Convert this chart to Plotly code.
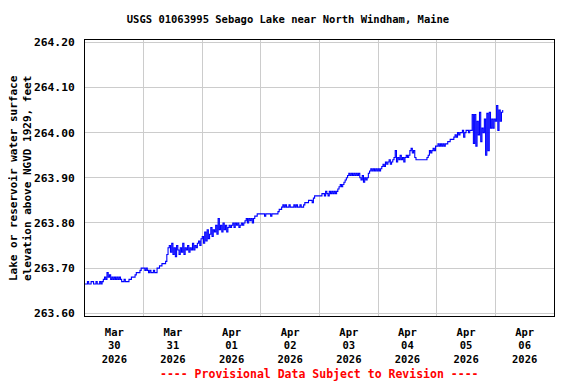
import pandas as pd
import plotly.graph_objects as go

# Half-hourly lake elevation (ft, NGVD 1929), starting 2026-03-30 00:00
mar30 = [263.665, 263.665, 263.67, 263.665, 263.665, 263.67, 263.67, 263.665, 263.665, 263.67,
         263.665, 263.665, 263.67, 263.665,
         263.67, 263.675, 263.68, 263.675,
         263.69,
         263.68, 263.685, 263.675, 263.68, 263.675, 263.68, 263.675, 263.68, 263.675, 263.68, 263.675,
         263.67, 263.67, 263.675, 263.67, 263.67, 263.67, 263.675,
         263.675, 263.68, 263.68, 263.68,
         263.685, 263.69, 263.69, 263.69, 263.695, 263.70, 263.70]
mar31 = [263.70, 263.695, 263.70, 263.695,
         263.69, 263.695, 263.69, 263.69, 263.695, 263.69, 263.69,
         263.70, 263.70,
         263.705, 263.705, 263.71,
         263.71, 263.71, 263.715,
         263.73, 263.745,
         263.75, 263.735, 263.755, 263.73, 263.745, 263.725, 263.75, 263.74, 263.73, 263.745,
         263.735, 263.755, 263.73, 263.745, 263.74, 263.75, 263.735, 263.745, 263.74, 263.755,
         263.74, 263.75, 263.745, 263.755, 263.76, 263.75, 263.765]
apr01 = [263.77, 263.755, 263.78, 263.76, 263.785, 263.765, 263.775, 263.79, 263.77, 263.785,
         263.78, 263.795, 263.775, 263.81, 263.785,
         263.795, 263.78, 263.80, 263.785, 263.795, 263.78, 263.79, 263.795, 263.79,
         263.795, 263.80, 263.79, 263.80, 263.795, 263.80, 263.79, 263.795, 263.80, 263.795, 263.80,
         263.805, 263.81, 263.80, 263.81, 263.805, 263.81, 263.80, 263.81,
         263.815, 263.815, 263.82,
         263.82, 263.82]
apr02 = [263.82, 263.82, 263.82, 263.815, 263.82, 263.82, 263.82, 263.82, 263.815, 263.82,
         263.82, 263.82, 263.82, 263.82,
         263.825, 263.83, 263.83,
         263.835, 263.84, 263.835, 263.84, 263.835, 263.835, 263.84, 263.835, 263.835, 263.835,
         263.84, 263.835, 263.84, 263.835, 263.835, 263.84, 263.835, 263.835, 263.84,
         263.845, 263.845, 263.845, 263.85,
         263.85, 263.85, 263.845, 263.855,
         263.86, 263.86, 263.86, 263.86]
apr03 = [263.86, 263.86, 263.865,
         263.865, 263.86, 263.87, 263.865, 263.86, 263.87, 263.865, 263.87, 263.865, 263.87,
         263.865, 263.87,
         263.875, 263.88, 263.885, 263.88, 263.885, 263.89, 263.895,
         263.90, 263.905, 263.91, 263.905, 263.91, 263.905, 263.91, 263.905, 263.91, 263.905, 263.91,
         263.90, 263.895, 263.905, 263.89, 263.90, 263.895, 263.90,
         263.91, 263.915, 263.92, 263.915, 263.92, 263.915, 263.92, 263.915]
apr04 = [263.92, 263.915, 263.92, 263.925,
         263.93, 263.925, 263.935, 263.93, 263.935, 263.94, 263.93, 263.935,
         263.94, 263.945, 263.96, 263.935, 263.945, 263.94, 263.95, 263.94, 263.945, 263.935,
         263.945, 263.95, 263.945, 263.95,
         263.96, 263.965, 263.955, 263.96,
         263.945, 263.94, 263.94, 263.94, 263.94, 263.94, 263.94, 263.94, 263.94, 263.94,
         263.945, 263.95,
         263.96, 263.955, 263.96, 263.965, 263.96, 263.97]
apr05 = [263.97, 263.975, 263.97, 263.975, 263.97, 263.975, 263.97, 263.975, 263.975, 263.98,
         263.98, 263.985, 263.985, 263.985,
         263.99, 263.995, 263.99, 264.00, 263.995, 264.00,
         264.00, 264.005, 263.99, 264.00, 264.005, 264.005, 264.00, 264.005, 264.005,
         264.04, 263.976, 264.04, 263.97, 264.025, 263.995, 264.045, 263.98, 264.01, 264.00,
         264.03, 263.95, 264.043, 263.96, 264.045, 264.01, 264.03, 264.01, 264.03, 264.025,
         264.06, 264.005, 264.05, 264.025, 264.045, 264.05]

elev = mar30 + mar31 + apr01 + apr02 + apr03 + apr04 + apr05
times = pd.date_range("2026-03-30 00:00", periods=len(elev), freq="30min")

day_labels = ["Mar<br>30<br>2026", "Mar<br>31<br>2026", "Apr<br>01<br>2026", "Apr<br>02<br>2026",
              "Apr<br>03<br>2026", "Apr<br>04<br>2026", "Apr<br>05<br>2026", "Apr<br>06<br>2026"]
label_pos = pd.date_range("2026-03-30 12:00", periods=8, freq="D")
grid_pos = pd.date_range("2026-03-31 00:00", periods=7, freq="D")
y_ticks = [263.60, 263.70, 263.80, 263.90, 264.00, 264.10, 264.20]

font = dict(family="DejaVu Sans Mono", weight="bold", color="black")

# The page body has an 8px default margin, so the layout is laid out 8px up/left.
L, R, T, B = 77, 30, 31.5, 76
plot_h = 384 - T - B
plot_w = 576 - L - R

fig = go.Figure()
fig.add_trace(go.Scatter(x=times, y=elev, mode="lines", line=dict(color="#0000FF", width=1.1, shape="hv"),
                         showlegend=False, hoverinfo="skip"))

fig.update_layout(
    width=576, height=384,
    margin=dict(l=L, r=R, t=T, b=B),
    paper_bgcolor="white", plot_bgcolor="white",
    font=dict(size=11, **font),
    title=dict(text="USGS 01063995 Sebago Lake near North Windham, Maine",
               x=(288 - 8) / 576, xref="container", xanchor="center",
               y=1 - 11 / 384, yref="container", yanchor="middle",
               font=dict(size=10.5, **font)),
)
fig.update_xaxes(
    range=["2026-03-30 00:00", "2026-04-07 00:00"],
    tickmode="array", tickvals=label_pos, ticktext=day_labels,
    showgrid=False, ticks="", ticklabelstandoff=6,
    tickfont=dict(size=10.5, **font),
    minor=dict(tickmode="array", tickvals=grid_pos, showgrid=True, gridcolor="#cccccc", gridwidth=1, ticks=""),
    showline=True, linecolor="black", linewidth=1, mirror=True, zeroline=False,
)
fig.update_yaxes(
    range=[263.594, 264.205],
    tickmode="array", tickvals=y_ticks, tickformat=".2f",
    showgrid=True, gridcolor="#cccccc", gridwidth=1, ticks="", ticklabelstandoff=7,
    tickfont=dict(size=11.3, **font),
    showline=True, linecolor="black", linewidth=1, mirror=True, zeroline=False,
)
fig.add_annotation(text="Lake or reservoir water surface<br>elevation above NGVD 1929, feet",
                   textangle=-90, xref="paper", yref="paper", x=(12 - L) / plot_w, y=0.5,
                   xanchor="center", yanchor="middle", showarrow=False,
                   font=dict(size=11, **font))
fig.add_annotation(text="---- Provisional Data Subject to Revision ----",
                   xref="paper", yref="paper", x=0.5, y=-(366 - (384 - B)) / plot_h,
                   xanchor="center", yanchor="middle", showarrow=False,
                   font=dict(size=11.5, family="DejaVu Sans Mono", weight="bold", color="#FF0000"))

fig.write_html("out.html")
